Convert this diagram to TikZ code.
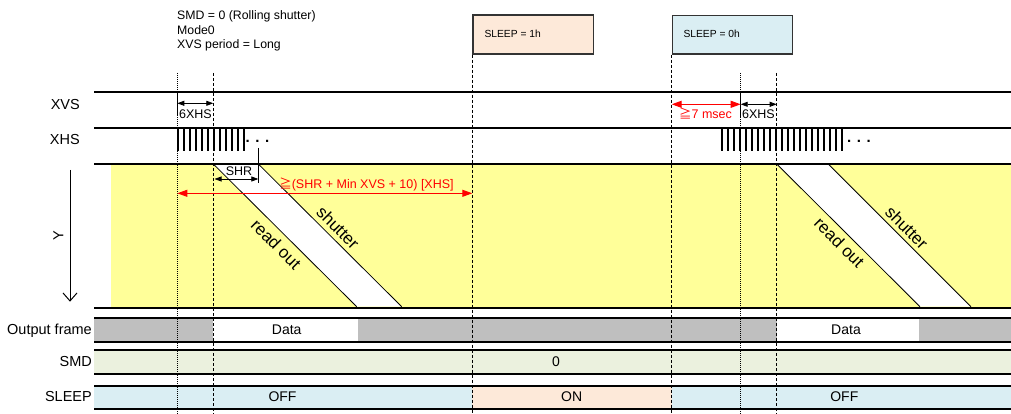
\documentclass[tikz,border=0pt]{standalone}
\usepackage{fontspec}
\setmainfont{Liberation Sans}
\newfontfamily\cjk{Noto Sans CJK JP}
\usetikzlibrary{arrows.meta}
\definecolor{yel}{HTML}{FFFF99}
\definecolor{grayrow}{HTML}{BFBFBF}
\definecolor{smdrow}{HTML}{EBF1DE}
\definecolor{bluerow}{HTML}{DAEEF3}
\definecolor{peach}{HTML}{FDE9D9}
\definecolor{boxline}{HTML}{333333}
\newcommand\fsz[1]{\fontsize{#1}{#1}\selectfont}
\newcommand\geqjp{{\cjk ≧}}
\begin{document}
\begin{tikzpicture}[x=1pt,y=-1pt,
  hline/.style={line width=1.2pt,black},
  vdot/.style={line width=0.6pt,dash pattern=on 1pt off 1pt},
  vdash/.style={line width=0.8pt,dash pattern=on 3pt off 2pt},
  pulse/.style={line width=1.8pt},
  dimarrow/.style={{Triangle[length=7pt,width=5pt]}-{Triangle[length=7pt,width=5pt]},line width=0.8pt},
  redarrow/.style={red,{Triangle[length=10pt,width=7pt]}-{Triangle[length=10pt,width=7pt]},line width=1pt},
  rowlbl/.style={font=\fsz{14.5},anchor=base east,inner sep=0pt},
  celltxt/.style={font=\fsz{14},anchor=base,inner sep=0pt},
  smalltxt/.style={font=\fsz{12.5},anchor=base,inner sep=0pt},
  toptxt/.style={font=\fsz{12.3},anchor=base west,inner sep=0pt},
  diagtxt/.style={font=\fsz{17},rotate=-45,inner sep=0pt},
  sleepbox/.style={draw=boxline,line width=1.3pt},
  boxtxt/.style={font=\fsz{10.3},anchor=base west,inner sep=0pt}
]
\useasboundingbox (0,0) rectangle (1011,414);

% ---- band fills ----
\fill[yel] (111,164) rectangle (1011,306.7);
\fill[white] (213.3,164) -- (258.3,164) -- (401.7,306.7) -- (356.7,306.7) -- cycle;
\fill[white] (776.7,164) -- (828.3,164) -- (971,306.7) -- (920,306.7) -- cycle;
\coordinate (roL1) at (213.3,164); \coordinate (roL2) at (356.7,306.7);
\coordinate (shL1) at (258.3,164); \coordinate (shL2) at (401.7,306.7);
\coordinate (roR1) at (776.7,164); \coordinate (roR2) at (920,306.7);
\coordinate (shR1) at (828.3,164); \coordinate (shR2) at (971,306.7);
\draw[line width=0.8pt] (roL1) -- (roL2);
\draw[line width=0.8pt] (shL1) -- (shL2);
\draw[line width=0.8pt] (roR1) -- (roR2);
\draw[line width=0.8pt] (shR1) -- (shR2);

\fill[grayrow] (94,318) rectangle (1011,342);
\fill[white] (213.3,318) rectangle (358,342);
\fill[white] (776.7,318) rectangle (919,342);
\fill[smdrow] (94,350) rectangle (1011,374);
\fill[bluerow] (94,386) rectangle (472.3,409);
\fill[peach] (472.3,386) rectangle (671.7,409);
\fill[bluerow] (671.7,386) rectangle (1011,409);

% ---- SLEEP register boxes ----
\node[sleepbox,fill=peach,minimum width=120.4pt,minimum height=39pt,anchor=north west] (b1) at (472.3,14.3) {};
\node[sleepbox,fill=bluerow,minimum width=120pt,minimum height=38.3pt,anchor=north west] (b0) at (671.7,15) {};
\node[boxtxt] at (484.3,37.3) {SLEEP = 1h};
\node[boxtxt] at (683.3,37.3) {SLEEP = 0h};

% ---- vertical timing lines ----
\draw[vdot] (177.3,73) -- (177.3,414);
\draw[vdash] (213.3,73) -- (213.3,414);
\draw[vdash] (b1.south west) -- (472.3,414);
\draw[vdash] (b0.south west) -- (671.7,414);
\draw[vdot] (740.7,73) -- (740.7,414);
\draw[vdash] (776.7,73) -- (776.7,414);

% ---- horizontal lines ----
\foreach \yy in {92,128,164,308,318,342,350,374,386,409}
  \draw[hline] (94,\yy) -- (1011,\yy);

% XVS edges
\draw[line width=1.2pt] (177.3,92) -- (177.3,115);
\draw[line width=1.2pt] (740.7,92) -- (740.7,118);

% XHS pulses
\foreach \k in {0,...,11} \draw[pulse] ({178.3+6*\k},128) -- ++(0,23);
\foreach \k in {0,...,20} \draw[pulse] ({722.3+5.97*\k},128) -- ++(0,23);
\node[font=\fsz{15}\bfseries,inner sep=0pt,anchor=base] (dl) at (257.5,143) {. . .};
\node[font=\fsz{15}\bfseries,inner sep=0pt,anchor=base] (dr) at (859,143) {. . .};

% ---- dimension arrows ----
\coordinate (a1) at (177.3,103.3); \coordinate (a2) at (213.3,103.3);
\draw[dimarrow] (a1) -- (a2);
\node[smalltxt] at (195.5,118.3) {6XHS};

\coordinate (c1) at (671.7,104.3); \coordinate (c2) at (740.7,104.3); \coordinate (c3) at (776.7,104.3);
\draw[redarrow] (c1) -- (c2);
\draw[dimarrow] (c2) -- (c3);
\node[smalltxt] at (758.5,119) {6XHS};
\node[smalltxt,red] at (705.5,119) {\geqjp7 msec};

\coordinate (s0) at (258.3,148); \coordinate (s1) at (258.3,183);
\draw[line width=0.8pt] (s0) -- (s1);
\coordinate (s2) at (214.5,179); \coordinate (s3) at (258.3,179);
\draw[dimarrow] (s2) -- (s3);
\node[smalltxt] at (239,175.5) {SHR};

\coordinate (r1) at (177.3,193.3); \coordinate (r2) at (472.3,193.3);
\draw[redarrow] (r1) -- (r2);
\node[smalltxt,red] at (366.5,188.3) {\geqjp(SHR + Min XVS + 10) [XHS]};

% ---- Y axis ----
\coordinate (y1) at (70,170); \coordinate (y2) at (70,301.7);
\draw[line width=1pt,-{Straight Barb[length=8pt,width=14pt]}] (y1) -- (y2);
\node[font=\fsz{14.5},rotate=90,inner sep=0pt] at (58.3,236) {Y};

% ---- diagonal labels ----
\node[diagtxt] at (338,227.5) {shutter};
\node[diagtxt] at (276.2,244.2) {read out};
\node[diagtxt] at (906.8,227.5) {shutter};
\node[diagtxt] at (839.5,242.5) {read out};

% ---- top text ----
\node[toptxt] at (177,20) {SMD = 0 (Rolling shutter)};
\node[toptxt] at (177,34.5) {Mode0};
\node[toptxt] at (177,49) {XVS period = Long};

% ---- row labels ----
\node[rowlbl] at (80,109.3) {XVS};
\node[rowlbl] at (80,144.5) {XHS};
\node[rowlbl] at (92,334.3) {Output frame};
\node[rowlbl] at (92,366) {SMD};
\node[rowlbl] at (92,401) {SLEEP};

% ---- cell texts ----
\node[celltxt] at (286.7,334.3) {Data};
\node[celltxt] at (846,334.3) {Data};
\node[celltxt] at (556,366) {0};
\node[celltxt] at (282.5,401) {OFF};
\node[celltxt] at (571.7,401) {ON};
\node[celltxt] at (844.3,401) {OFF};
\end{tikzpicture}
\end{document}
